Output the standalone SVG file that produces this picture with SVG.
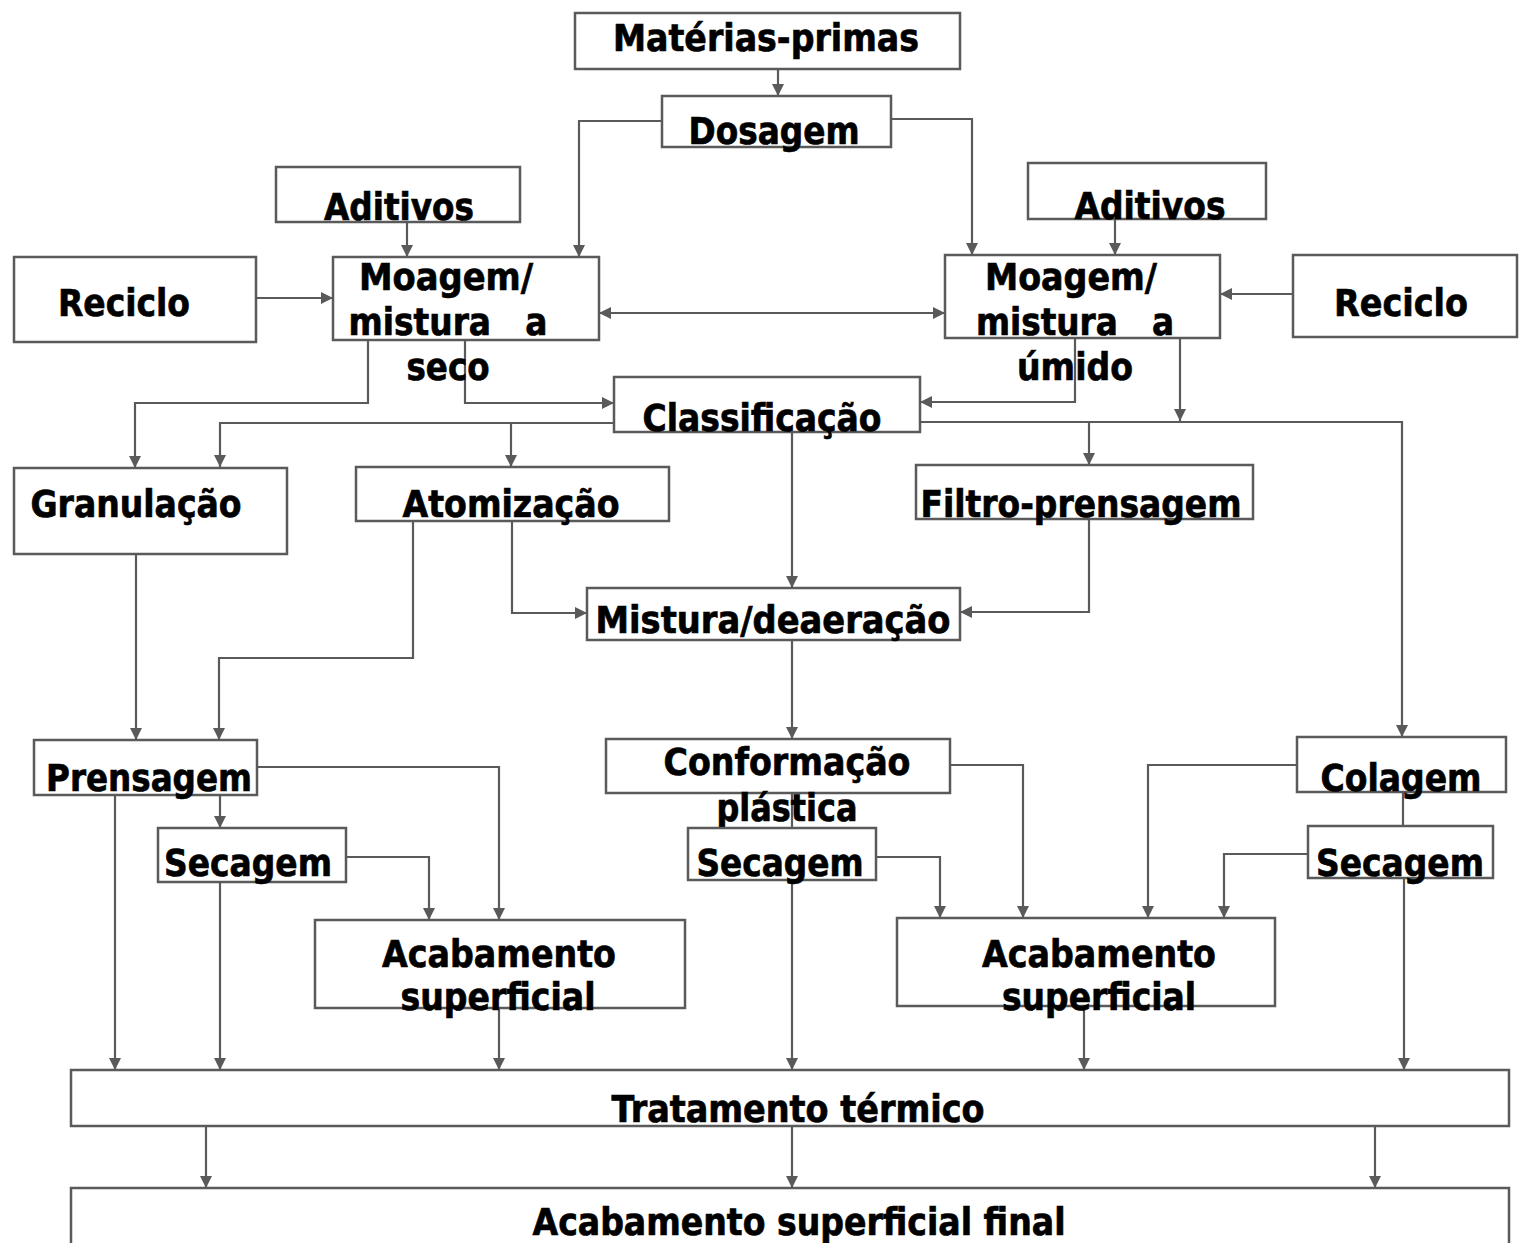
<svg xmlns="http://www.w3.org/2000/svg" width="1519" height="1243" viewBox="0 0 1519 1243">
<style>
.box{fill:#fff;stroke:#5a5a5a;stroke-width:2.5}
.c{fill:none;stroke:#5a5a5a;stroke-width:2.2}
.a{marker-end:url(#ah)}
.t{font-family:"DejaVu Sans",Verdana,sans-serif;font-weight:bold;font-size:37px;text-anchor:middle;fill:#000;stroke:#000;stroke-width:0.7}
</style>
<defs>
<marker id="ah" viewBox="0 0 10 10" refX="10" refY="5" markerWidth="13" markerHeight="12" markerUnits="userSpaceOnUse" orient="auto-start-reverse">
<path d="M0,0 L10,5 L0,10 z" fill="#5a5a5a"/>
</marker>
</defs>
<rect width="1519" height="1243" fill="#fff"/>
<g id="connectors">
<path class="c a" d="M778,69 V96"/>
<path class="c a" d="M662,121 H579 V257"/>
<path class="c a" d="M891,119 H972 V255"/>
<path class="c a" d="M407,222 V257"/>
<path class="c a" d="M1115,219 V255"/>
<path class="c a" d="M256,298 H333"/>
<path class="c a" d="M1293,294 H1220"/>
<path class="c a" d="M599,313 H945" marker-start="url(#ah)"/>
<path class="c a" d="M368,340 V403 H135 V468"/>
<path class="c a" d="M465,340 V403 H614"/>
<path class="c a" d="M1075,338 V402 H920"/>
<path class="c a" d="M1180,338 V421"/>
<path class="c a" d="M920,422 H1402 V737"/>
<path class="c a" d="M1089,422 V465"/>
<path class="c a" d="M614,423 H220 V467"/>
<path class="c a" d="M511,423 V467"/>
<path class="c a" d="M792,432 V588"/>
<path class="c a" d="M512,521 V613 H587"/>
<path class="c a" d="M413,521 V658 H219 V740"/>
<path class="c a" d="M136,554 V740"/>
<path class="c a" d="M1089,519 V612 H960"/>
<path class="c a" d="M792,640 V739"/>
<path class="c a" d="M257,767 H499 V920"/>
<path class="c a" d="M115,795 V1070"/>
<path class="c a" d="M220,795 V828"/>
<path class="c a" d="M346,857 H429 V920"/>
<path class="c a" d="M220,882 V1070"/>
<path class="c a" d="M499,1008 V1070"/>
<path class="c" d="M792,793 V828"/>
<path class="c a" d="M950,765 H1023 V918"/>
<path class="c a" d="M876,857 H940 V918"/>
<path class="c a" d="M792,880 V1070"/>
<path class="c a" d="M1297,765 H1148 V918"/>
<path class="c" d="M1403,792 V826"/>
<path class="c a" d="M1308,854 H1224 V918"/>
<path class="c a" d="M1404,878 V1070"/>
<path class="c a" d="M1084,1006 V1070"/>
<path class="c a" d="M206,1126 V1188"/>
<path class="c a" d="M792,1126 V1188"/>
<path class="c a" d="M1375,1126 V1188"/>
</g>
<g id="materias"><rect class="box" x="575" y="13" width="385" height="56"/><text class="t" x="766" y="51" textLength="306" lengthAdjust="spacingAndGlyphs">Matérias-primas</text></g>
<g id="dosagem"><rect class="box" x="662" y="96" width="229" height="51"/><text class="t" x="774" y="144" textLength="171" lengthAdjust="spacingAndGlyphs">Dosagem</text></g>
<g id="aditivos-l"><rect class="box" x="276" y="167" width="244" height="55"/><text class="t" x="399" y="220" textLength="150" lengthAdjust="spacingAndGlyphs">Aditivos</text></g>
<g id="aditivos-r"><rect class="box" x="1028" y="163" width="238" height="56"/><text class="t" x="1150" y="219" textLength="151" lengthAdjust="spacingAndGlyphs">Aditivos</text></g>
<g id="reciclo-l"><rect class="box" x="14" y="257" width="242" height="85"/><text class="t" x="124" y="316" textLength="132" lengthAdjust="spacingAndGlyphs">Reciclo</text></g>
<g id="reciclo-r"><rect class="box" x="1293" y="255" width="224" height="82"/><text class="t" x="1401" y="316" textLength="134" lengthAdjust="spacingAndGlyphs">Reciclo</text></g>
<g id="moagem-seco"><rect class="box" x="333" y="257" width="266" height="83"/><text class="t" x="446" y="290" textLength="174" lengthAdjust="spacingAndGlyphs">Moagem/</text><text class="t" x="448" y="335" textLength="199" lengthAdjust="spacingAndGlyphs" xml:space="preserve">mistura   a</text><text class="t" x="448" y="380" textLength="83" lengthAdjust="spacingAndGlyphs">seco</text></g>
<g id="moagem-umido"><rect class="box" x="945" y="255" width="275" height="83"/><text class="t" x="1071" y="290" textLength="172" lengthAdjust="spacingAndGlyphs">Moagem/</text><text class="t" x="1075" y="335" textLength="198" lengthAdjust="spacingAndGlyphs" xml:space="preserve">mistura   a</text><text class="t" x="1075" y="380" textLength="116" lengthAdjust="spacingAndGlyphs">úmido</text></g>
<g id="classificacao"><rect class="box" x="614" y="377" width="306" height="55"/><text class="t" x="762" y="431" textLength="239" lengthAdjust="spacingAndGlyphs">Classificação</text></g>
<g id="granulacao"><rect class="box" x="14" y="468" width="273" height="86"/><text class="t" x="136" y="517" textLength="211" lengthAdjust="spacingAndGlyphs">Granulação</text></g>
<g id="atomizacao"><rect class="box" x="356" y="467" width="313" height="54"/><text class="t" x="511" y="517" textLength="217" lengthAdjust="spacingAndGlyphs">Atomização</text></g>
<g id="filtro"><rect class="box" x="916" y="465" width="337" height="54"/><text class="t" x="1081" y="517" textLength="321" lengthAdjust="spacingAndGlyphs">Filtro-prensagem</text></g>
<g id="mistura"><rect class="box" x="587" y="588" width="373" height="52"/><text class="t" x="773" y="633" textLength="355" lengthAdjust="spacingAndGlyphs">Mistura/deaeração</text></g>
<g id="prensagem"><rect class="box" x="34" y="740" width="223" height="55"/><text class="t" x="149" y="791" textLength="206" lengthAdjust="spacingAndGlyphs">Prensagem</text></g>
<g id="conformacao"><rect class="box" x="606" y="739" width="344" height="54"/><text class="t" x="787" y="775" textLength="247" lengthAdjust="spacingAndGlyphs">Conformação</text><text class="t" x="787" y="821" textLength="141" lengthAdjust="spacingAndGlyphs">plástica</text></g>
<g id="colagem"><rect class="box" x="1297" y="737" width="209" height="55"/><text class="t" x="1401" y="791" textLength="161" lengthAdjust="spacingAndGlyphs">Colagem</text></g>
<g id="secagem-l"><rect class="box" x="158" y="828" width="188" height="54"/><text class="t" x="248" y="876" textLength="168" lengthAdjust="spacingAndGlyphs">Secagem</text></g>
<g id="secagem-m"><rect class="box" x="688" y="828" width="188" height="52"/><text class="t" x="780" y="876" textLength="167" lengthAdjust="spacingAndGlyphs">Secagem</text></g>
<g id="secagem-r"><rect class="box" x="1308" y="826" width="185" height="52"/><text class="t" x="1400" y="876" textLength="168" lengthAdjust="spacingAndGlyphs">Secagem</text></g>
<g id="acabamento-l"><rect class="box" x="315" y="920" width="370" height="88"/><text class="t" x="499" y="967" textLength="234" lengthAdjust="spacingAndGlyphs">Acabamento</text><text class="t" x="498" y="1010" textLength="195" lengthAdjust="spacingAndGlyphs">superficial</text></g>
<g id="acabamento-r"><rect class="box" x="897" y="918" width="378" height="88"/><text class="t" x="1099" y="967" textLength="234" lengthAdjust="spacingAndGlyphs">Acabamento</text><text class="t" x="1099" y="1010" textLength="194" lengthAdjust="spacingAndGlyphs">superficial</text></g>
<g id="tratamento"><rect class="box" x="71" y="1070" width="1438" height="56"/><text class="t" x="798" y="1122" textLength="373" lengthAdjust="spacingAndGlyphs">Tratamento térmico</text></g>
<g id="acabamento-final"><rect class="box" x="71" y="1188" width="1438" height="70"/><text class="t" x="799" y="1235" textLength="533" lengthAdjust="spacingAndGlyphs">Acabamento superficial final</text></g>
</svg>
